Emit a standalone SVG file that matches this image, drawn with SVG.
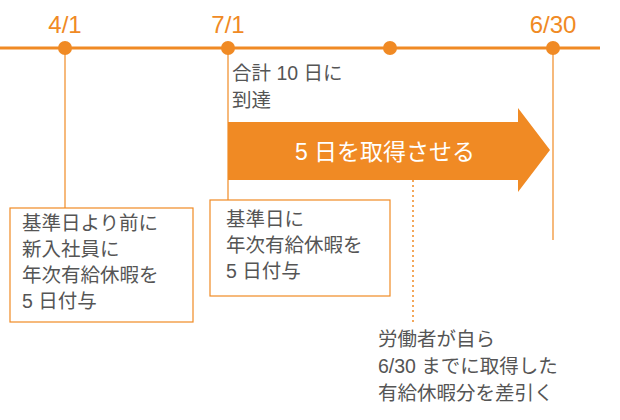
<svg xmlns="http://www.w3.org/2000/svg" width="620" height="420" viewBox="0 0 620 420">
<style>
.t{font-family:"Liberation Sans","Noto Sans CJK JP",sans-serif;font-size:19.5px;fill:#555}
.d{font-family:"Liberation Sans","Noto Sans CJK JP",sans-serif;font-size:24px;fill:#F08A24}
.l{stroke:#F08A24;stroke-width:1.2;fill:none}
.b{fill:#fff;stroke:#F08A24;stroke-width:1.2}
</style>
<rect width="620" height="420" fill="#fff"/>
<g id="connectors">
<line x1="0" y1="48" x2="600" y2="48" stroke="#F08A24" stroke-width="3"/>
<line class="l" x1="65" y1="48" x2="65" y2="208"/>
<line class="l" x1="228" y1="48" x2="228" y2="200"/>
<line class="l" x1="553" y1="48" x2="553" y2="240"/>
<line x1="413" y1="175" x2="413" y2="322" stroke="#F08A24" stroke-width="1.5" stroke-dasharray="2,3"/>
</g>
<g id="dates">
<circle cx="65" cy="48" r="7" fill="#F08A24"/><circle cx="228" cy="48" r="7" fill="#F08A24"/>
<circle cx="390" cy="48" r="7" fill="#F08A24"/><circle cx="553" cy="48" r="7" fill="#F08A24"/>
<text class="d" x="65" y="33" text-anchor="middle">4/1</text>
<text class="d" x="228" y="33" text-anchor="middle">7/1</text>
<text class="d" x="553" y="33" text-anchor="middle">6/30</text>
</g>
<g id="total"><text class="t" x="232" y="80">合計 10 日に</text><text class="t" x="232" y="107">到達</text></g>
<g id="arrow">
<polygon points="228,122 518,122 518,108 550,150 518,192 518,180 228,180" fill="#F08A24"/>
<text x="385" y="160" text-anchor="middle" font-family="Liberation Sans,Noto Sans CJK JP,sans-serif" font-size="23" fill="#fff">5 日を取得させる</text>
</g>
<g id="box1"><rect class="b" x="10" y="208" width="183" height="114"/>
<text class="t" x="22" y="230">基準日より前に</text><text class="t" x="22" y="256">新入社員に</text>
<text class="t" x="22" y="282">年次有給休暇を</text><text class="t" x="22" y="308">5 日付与</text></g>
<g id="box2"><rect class="b" x="210" y="200" width="180" height="96"/>
<text class="t" x="226" y="226">基準日に</text><text class="t" x="226" y="252">年次有給休暇を</text><text class="t" x="226" y="278">5 日付与</text></g>
<g id="note"><text class="t" x="378" y="346">労働者が自ら</text><text class="t" x="378" y="373">6/30 までに取得した</text><text class="t" x="378" y="400">有給休暇分を差引く</text></g>
</svg>
